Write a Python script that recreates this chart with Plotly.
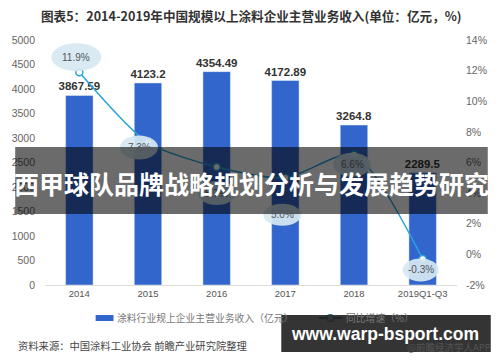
import plotly.graph_objects as go

# ---- data ----
categories = ["2014", "2015", "2016", "2017", "2018", "2019Q1-Q3"]
revenue = [3867.59, 4123.2, 4354.49, 4172.89, 3264.8, 2289.5]
revenue_labels = ["3867.59", "4123.2", "4354.49", "4172.89", "3264.8", "2289.5"]
growth = [11.9, 7.3, 5.7, 5.0, 6.5, -0.3]
growth_labels = ["11.9%", "7.3%", "5.7%", "5.0%", "6.6%", "-0.3%"]
left_ticks = [0, 500, 1000, 1500, 2000, 2500, 3000, 3500, 4000, 4500, 5000]
right_ticks = [-2, 0, 2, 4, 6, 8, 10, 12, 14]
right_tick_text = ["-2%", "0%", "2%", "4%", "6%", "8%", "10%", "12%", "14%"]

title_text = "图表5：2014-2019年中国规模以上涂料企业主营业务收入(单位：亿元，%)"
bar_name = "涂料行业规上企业主营业务收入（亿元）"
line_name = "同比增速（%）"
source_text = "资料来源：中国涂料工业协会 前瞻产业研究院整理"
banner_text = "西甲球队品牌战略规划分析与发展趋势研究"
url_text = "www.warp-bsport.com"
app_text = "@前瞻经济学人APP"

# ---- layout geometry (pixels) ----
W, H = 500, 362
L, R, T, B = 42, 43, 40, 77
PW, PH = W - L - R, H - T - B


def px(x):
    return (x - L) / PW


def py(y):
    return (H - B - y) / PH


CJK = "Noto Sans CJK SC"
LAT = "Liberation Sans, Arial, sans-serif"
BAR_COLOR = "#3366cc"
LINE_COLOR = "#2aa5d8"
BUBBLE = "#d6e8f2"

# bubble offsets (pixels) and sizes: style only
bubble_dx = [-3, -9, 0, -3, -2, -2]
bubble_dy = [15, -5, -26, -37, -10, -11]
bubble_w = [50, 38, 38, 38, 38, 36]
bubble_h = [28, 24, 24, 22, 24, 23]

fig = go.Figure()
fig.add_trace(go.Bar(
    x=list(range(len(categories))), y=revenue, name=bar_name,
    marker_color=BAR_COLOR, width=0.4,
    text=revenue_labels, textposition="outside", cliponaxis=False,
    constraintext="none",
    textfont=dict(family=LAT, size=11.5, color="#333333", weight="bold"),
    showlegend=False,
))
fig.add_trace(go.Scatter(
    x=list(range(len(categories))), y=growth, yaxis="y2", name=line_name,
    mode="lines+markers",
    line=dict(color=LINE_COLOR, width=1.5, shape="spline", smoothing=0.7),
    marker=dict(size=7, color="white", line=dict(color=LINE_COLOR, width=1.5)),
    showlegend=False,
))

shapes = []
annotations = []
dark_under_banner = [False, False, True, False, True, False]
for i, (g, lab) in enumerate(zip(growth, growth_labels)):
    shapes.append(dict(
        type="circle", xref="x", yref="y2", xsizemode="pixel", ysizemode="pixel",
        xanchor=i, yanchor=g,
        x0=bubble_dx[i] - bubble_w[i] / 2, x1=bubble_dx[i] + bubble_w[i] / 2,
        y0=bubble_dy[i] - bubble_h[i] / 2, y1=bubble_dy[i] + bubble_h[i] / 2,
        fillcolor=BUBBLE, line=dict(width=0), layer="above", opacity=0.92,
    ))
    annotations.append(dict(
        x=i, y=g, xref="x", yref="y2", text=lab, showarrow=False,
        xanchor="center", yanchor="middle",
        xshift=bubble_dx[i], yshift=bubble_dy[i],
        font=dict(family=LAT, size=10, color="#2a2a2a" if dark_under_banner[i] else "#555555"),
    ))


def note(x, y, text, font, xanchor="center"):
    annotations.append(dict(xref="paper", yref="paper", x=px(x), y=py(y),
                            xanchor=xanchor, yanchor="middle",
                            text=text, showarrow=False, font=font))


# banner overlay
shapes.append(dict(type="rect", xref="paper", yref="paper",
                   x0=px(12), x1=px(488), y0=py(214), y1=py(147),
                   fillcolor="rgba(0,0,0,0.58)", line=dict(width=0), layer="above"))
note(250, 183, banner_text, dict(family=CJK, size=25, color="white", weight="bold"))

# title
note(250, 15, title_text, dict(family=CJK, size=12.6, color="#333333", weight="bold"))

# legend (manual)
shapes.append(dict(type="rect", xref="paper", yref="paper",
                   x0=px(93), x1=px(111), y0=py(321), y1=py(315),
                   fillcolor=BAR_COLOR, line=dict(width=0)))
note(113, 318, bar_name, dict(family=CJK, size=9.8, color="#777777"), "left")
shapes.append(dict(type="line", xref="paper", yref="paper",
                   x0=px(318), x1=px(341), y0=py(318), y1=py(318),
                   line=dict(color="#1f6f96", width=2)))
shapes.append(dict(type="circle", xref="paper", yref="paper",
                   x0=px(326), x1=px(333), y0=py(321.5), y1=py(314.5),
                   fillcolor="white", line=dict(color="#1f6f96", width=1.2)))
note(343, 318, line_name, dict(family=CJK, size=9.8, color="#777777"), "left")

# source and app credit
note(13, 346, source_text, dict(family=CJK, size=10.3, color="#444444"), "left")
note(493, 347, app_text, dict(family=CJK, size=9.5, color="#555555"), "right")

# url box
shapes.append(dict(type="rect", xref="paper", yref="paper",
                   x0=px(280), x1=px(491), y0=py(352), y1=py(315),
                   fillcolor="rgba(30,30,30,0.9)", line=dict(width=0), layer="above"))
note(384, 334, url_text, dict(family="Liberation Sans, Arial", size=17.5,
                              color="white", weight="bold"))

fig.update_layout(
    width=W, height=H,
    margin=dict(l=L, r=R, t=T, b=B),
    paper_bgcolor="white", plot_bgcolor="white",
    showlegend=False,
    xaxis=dict(
        tickmode="array", tickvals=list(range(len(categories))), ticktext=categories,
        range=[-0.5, len(categories) - 0.5],
        showline=True, linecolor="#dddddd", linewidth=1,
        showgrid=False, zeroline=False, ticks="",
        tickfont=dict(family=LAT, size=9.5, color="#555555"),
    ),
    yaxis=dict(
        range=[0, 5000], tickvals=left_ticks, showgrid=False, zeroline=False,
        showline=False, ticklabelstandoff=9,
        tickfont=dict(family=LAT, size=10.5, color="#666666"),
    ),
    yaxis2=dict(
        range=[-2, 14], tickmode="array", tickvals=right_ticks, ticktext=right_tick_text,
        overlaying="y", side="right", showgrid=False, zeroline=False, showline=False,
        ticklabelstandoff=8,
        tickfont=dict(family=LAT, size=10.5, color="#666666"),
    ),
    shapes=shapes,
    annotations=annotations,
)

fig.write_html("out.html", config={"displayModeBar": False},
               post_script="document.body.style.margin='0';")
